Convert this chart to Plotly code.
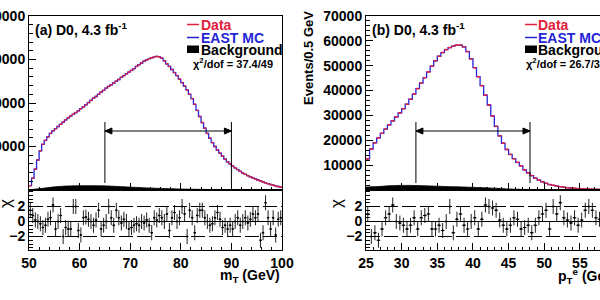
import plotly.graph_objects as go

# ---------------- data ----------------
# (a) transverse mass, 0.5 GeV bins from 50 to 100 GeV
mt_lo, mt_width = 50.0, 0.5
mt_counts = [
    1000, 2700, 4800, 6900, 9000, 10500, 11400, 12200, 13000, 13600,
    14100, 14600, 15100, 15600, 16100, 16600, 17000, 17400, 17800, 18200,
    18700, 19100, 19600, 20100, 20600, 21100, 21500, 22000, 22500, 22900,
    23400, 23800, 24200, 24600, 25000, 25400, 25900, 26300, 26700, 27100,
    27500, 27900, 28400, 28800, 29200, 29600, 29900, 30200, 30400, 30600,
    30700, 30600, 30300, 29700, 29000, 28400, 27700, 27000, 26300, 25500,
    24700, 23900, 23000, 22000, 21000, 19700, 18300, 16900, 15500, 14200,
    13000, 11900, 10900, 10000, 9200, 8500, 7800, 7100, 6500, 6000,
    5500, 5100, 4700, 4300, 3900, 3600, 3300, 3050, 2800, 2550,
    2300, 2080, 1860, 1650, 1450, 1270, 1100, 950, 800, 680]
mt_bkg = [
    100, 150, 200, 260, 330, 400, 470, 540, 610, 680,
    740, 790, 830, 870, 900, 920, 940, 950, 960, 970,
    980, 980, 990, 990, 990, 980, 980, 970, 960, 950,
    930, 910, 890, 860, 830, 800, 770, 740, 710, 680,
    650, 620, 590, 560, 530, 500, 480, 460, 440, 420,
    400, 380, 360, 340, 320, 300, 285, 270, 255, 240,
    225, 210, 200, 190, 180, 170, 160, 150, 140, 130,
    120, 110, 100, 95, 90, 85, 80, 75, 70, 65,
    60, 58, 56, 54, 52, 50, 48, 46, 44, 42,
    40, 38, 36, 34, 32, 30, 28, 26, 24, 22]
mt_chi = [
    1.5, 0.8, 0.2, 0.0, -0.3, -0.8, -0.5, 0.3, 0.5, 2.2,
    -1.0, 0.0, 0.8, -2.0, -0.8, -1.0, -1.0, 2.0, 2.0, -1.2,
    -1.8, 0.5, 0.6, 0.3, 0.0, -0.5, 0.2, 1.5, -1.0, -0.5,
    0.0, 2.0, 0.5, -0.5, 1.5, 0.5, -0.2, 0.3, 0.0, -1.0,
    -0.8, -0.5, -0.3, -0.5, 0.0, -0.2, 0.2, -0.5, -1.5, 0.5,
    0.2, 0.8, 0.5, 0.0, 1.0, -1.2, 0.5, 1.2, 0.0, 0.5,
    2.0, 1.0, -2.0, 1.5, 0.5, -1.5, 0.8, 1.5, 1.5, 0.5,
    0.0, -0.5, -0.3, 0.5, 1.2, 0.3, -0.8, -0.5, -1.0, -0.5,
    -1.0, 0.0, 0.5, -0.5, 0.0, 0.5, -0.2, 0.3, 1.0, 0.5,
    1.0, -2.5, -1.5, 2.5, 0.5, -1.0, 0.5, -1.8, 0.3, 0.5]
mt_fit_range = [65, 90]
mt_x_ticks = [50, 60, 70, 80, 90, 100]
mt_y_ticks = [10000, 20000, 30000, 40000]
mt_chi2_text = "37.4/49"

# (b) electron transverse momentum, 0.5 GeV bins from 25 to 60 GeV
pt_lo, pt_width = 25.0, 0.5
pt_counts = [
    12500, 16500, 19000, 21000, 22800, 24500, 26200, 27800, 29400, 31000,
    32700, 34500, 36500, 38600, 40800, 43000, 45200, 47500, 49800, 52000,
    53800, 55300, 56500, 57300, 57900, 58300, 58300, 57600, 55700, 52800,
    49200, 45600, 42000, 38200, 34200, 29800, 25600, 21800, 18800, 16300,
    14300, 12600, 11100, 9700, 8100, 6900, 5800, 4800, 4000, 3300,
    2700, 2200, 1900, 1600, 1350, 1150, 950, 800, 680, 580,
    500, 430, 370, 320, 280, 250, 220, 200, 180, 160]
pt_bkg = [
    1200, 1300, 1350, 1400, 1500, 1600, 1700, 1750, 1800, 1850,
    1850, 1850, 1850, 1800, 1800, 1750, 1700, 1650, 1600, 1550,
    1500, 1450, 1400, 1350, 1300, 1300, 1250, 1200, 1150, 1100,
    1050, 1000, 950, 900, 820, 750, 680, 600, 520, 450,
    400, 350, 310, 270, 240, 210, 180, 160, 140, 120,
    110, 100, 90, 80, 75, 70, 65, 60, 55, 50,
    48, 46, 44, 42, 40, 38, 36, 34, 32, 30]
pt_chi = [
    1.0, -2.0, -1.5, -2.5, -1.0, 0.5, 1.0, 2.2, 0.0, -0.2,
    -0.5, -1.0, -0.5, 0.5, -1.0, 0.5, 0.8, 1.0, -1.0, -1.0,
    -0.5, -1.2, 0.0, 2.0, -1.5, 0.3, 1.0, -0.5, -1.0, 0.0,
    0.5, -1.0, 0.3, 2.2, 2.0, 1.8, 1.5, 0.2, -0.5, -1.0,
    -0.5, 0.5, 0.3, -1.0, -0.8, -0.5, -1.5, -0.5, 0.5, 1.0,
    1.5, -1.0, 2.0, 1.0, 2.5, 0.5, 0.2, -0.2, 0.5, -0.5,
    0.2, 1.5, 2.0, 1.5, 0.5, 0.3, 1.5, 2.0, 0.5, 0.0]
pt_fit_range = [32, 48]
pt_x_ticks = [25, 30, 35, 40, 45, 50, 55, 60]
pt_y_ticks = [10000, 20000, 30000, 40000, 50000, 60000, 70000]
pt_chi2_text = "26.7/31"

chi_ticks = [-2, 0, 2]
chi_lines = [-2, 0, 2]

# ---------------- style / layout ----------------
RED = "#e0203c"
BLUE = "#2424d8"
FONT = "Liberation Sans"
W, H = 600, 300

L_PX = (29, 282)          # left panel frame, pixels
R_PX = (366, 600)         # right panel frame (continues past the edge)
TOP_PX = (16, 190)
RES_PX = (190, 250)
MT_RANGE = [50, 100]
PT_RANGE = [25, 25 + (R_PX[1] - R_PX[0]) / 7.13]
MT_Y = [0, 40000]
PT_Y = [0, 70000]
CHI_RANGE = [-3.8, 4.2]


def px(x):
    return x / W


def py(y):
    return 1 - y / H


def edges(lo, width, n):
    return [lo + width * i for i in range(n + 1)]


def centers(lo, width, n):
    return [lo + width * (i + 0.5) for i in range(n)]


fig = go.Figure()


def add_panel(lo, width, counts, bkg, chi, xa_top, ya_top, xa_res, ya_res):
    n = len(counts)
    e = edges(lo, width, n)
    c = centers(lo, width, n)
    fig.add_trace(go.Scatter(x=e, y=bkg + [bkg[-1]], mode="lines", line_shape="hv",
                             line=dict(color="black", width=0.8), fill="tozeroy",
                             fillcolor="black", xaxis=xa_top, yaxis=ya_top,
                             showlegend=False, hoverinfo="skip"))
    fig.add_trace(go.Scatter(x=e, y=counts + [counts[-1]], mode="lines", line_shape="hv",
                             line=dict(color=BLUE, width=1.3), xaxis=xa_top, yaxis=ya_top,
                             showlegend=False))
    fig.add_trace(go.Scatter(x=c, y=counts, mode="markers",
                             marker=dict(size=1.5, color=RED),
                             error_x=dict(type="constant", value=width / 2, color=RED,
                                          thickness=1.4, width=0),
                             xaxis=xa_top, yaxis=ya_top, showlegend=False))
    fig.add_trace(go.Scatter(x=c, y=chi, mode="markers",
                             marker=dict(size=2, color="black"),
                             error_x=dict(type="constant", value=width / 2, color="black",
                                          thickness=1, width=0),
                             error_y=dict(type="constant", value=1, color="#222222",
                                          thickness=1, width=0),
                             xaxis=xa_res, yaxis=ya_res, showlegend=False))


add_panel(mt_lo, mt_width, mt_counts, mt_bkg, mt_chi, "x", "y", "x2", "y2")
add_panel(pt_lo, pt_width, pt_counts, pt_bkg, pt_chi, "x3", "y3", "x4", "y4")

tickfont = dict(family=FONT, size=14, color="black", weight="bold")
L_DOM = [px(L_PX[0]), px(L_PX[1])]
R_DOM = [px(R_PX[0]), 1.0]
TOP_DOM = [py(TOP_PX[1]), py(TOP_PX[0])]
RES_DOM = [py(RES_PX[1]), py(RES_PX[0])]


def xaxis(dom, rng, anchor, ticks, minor_dt, labels):
    return dict(domain=dom, range=rng, anchor=anchor, showgrid=False, zeroline=False,
                showline=True, linecolor="black", linewidth=1, mirror=True,
                ticks="inside", ticklen=7, tickwidth=1, tickcolor="black",
                tickmode="array", tickvals=ticks, showticklabels=labels,
                tickfont=tickfont, tickformat="d", automargin=False,
                minor=dict(ticks="inside", ticklen=3.5, tickwidth=1, tickcolor="black",
                           tickmode="linear", tick0=rng[0], dtick=minor_dt))


def yaxis(dom, rng, anchor, ticks, minor_dt, mirror):
    return dict(domain=dom, range=rng, anchor=anchor, showgrid=False, zeroline=False,
                showline=True, linecolor="black", linewidth=1, mirror=mirror,
                ticks="inside", ticklen=7, tickwidth=1, tickcolor="black",
                tickmode="array", tickvals=ticks, tickfont=tickfont, tickformat="d",
                automargin=False,
                minor=dict(ticks="inside", ticklen=3.5, tickwidth=1, tickcolor="black",
                           tickmode="linear", tick0=0, dtick=minor_dt))


fig.update_layout(
    width=W, height=H, margin=dict(l=0, r=0, t=0, b=0, autoexpand=False),
    paper_bgcolor="white", plot_bgcolor="white",
    xaxis=xaxis(L_DOM, MT_RANGE, "y", mt_x_ticks, 2, False),
    yaxis=yaxis(TOP_DOM, MT_Y, "x", mt_y_ticks, 2000, True),
    xaxis2=xaxis(L_DOM, MT_RANGE, "y2", mt_x_ticks, 2, True),
    yaxis2=yaxis(RES_DOM, CHI_RANGE, "x2", chi_ticks, 0.5, True),
    xaxis3=xaxis(R_DOM, PT_RANGE, "y3", pt_x_ticks, 1, False),
    yaxis3=yaxis(TOP_DOM, PT_Y, "x3", pt_y_ticks, 2000, False),
    xaxis4=xaxis(R_DOM, PT_RANGE, "y4", pt_x_ticks, 1, True),
    yaxis4=yaxis(RES_DOM, CHI_RANGE, "x4", chi_ticks, 0.5, False),
)

shapes = []
annotations = []

for xr, yr in (("x2 domain", "y2"), ("x4 domain", "y4")):
    for v in chi_lines:
        shapes.append(dict(type="line", xref=xr, yref=yr, x0=0, x1=1, y0=v, y1=v,
                           line=dict(color="black", width=1,
                                     dash="solid" if v == 0 else "14px,4px")))


def fit_marks(rng, xr, yr, xrange, yrange, frame_x, frame_y, y_lo_px, y_hi_px, y_arrow_px):
    # pixel -> data conversions for this panel
    gx = (xrange[1] - xrange[0]) / (frame_x[1] - frame_x[0])
    gy = (yrange[1] - yrange[0]) / (frame_y[1] - frame_y[0])
    y_lo = (frame_y[1] - y_lo_px) * gy
    y_hi = (frame_y[1] - y_hi_px) * gy
    ya = (frame_y[1] - y_arrow_px) * gy
    head_l, head_w = 7 * gx, 3 * gy
    for v in rng:
        shapes.append(dict(type="line", xref=xr, yref=yr, x0=v, x1=v, y0=y_lo, y1=y_hi,
                           line=dict(color="black", width=1)))
    shapes.append(dict(type="line", xref=xr, yref=yr, x0=rng[0], x1=rng[1], y0=ya, y1=ya,
                       line=dict(color="black", width=1)))
    for v, s in ((rng[0], 1), (rng[1], -1)):
        path = "M {},{} L {},{} L {},{} Z".format(v, ya, v + s * head_l, ya + head_w,
                                                 v + s * head_l, ya - head_w)
        shapes.append(dict(type="path", xref=xr, yref=yr, path=path,
                           fillcolor="black", line=dict(color="black", width=1)))


fit_marks(mt_fit_range, "x", "y", MT_RANGE, MT_Y, L_PX, TOP_PX, 183, 122, 131)
fit_marks(pt_fit_range, "x3", "y3", [PT_RANGE[0], PT_RANGE[0] + 234 / 7.13 * 1.0],
          PT_Y, (R_PX[0], R_PX[0] + 234), TOP_PX, 183, 122, 131)


def text(xp, yp, s, size=14, color="black", anchor="left", angle=0, bold=True):
    annotations.append(dict(x=px(xp), y=py(yp), xref="paper", yref="paper", text=s,
                            showarrow=False, xanchor=anchor, yanchor="middle",
                            textangle=angle,
                            font=dict(family=FONT, size=size, color=color,
                                      weight="bold" if bold else "normal")))


def legend(x_line, x_text, x_chi, chi2):
    shapes.append(dict(type="line", xref="paper", yref="paper", x0=px(x_line),
                       x1=px(x_line + 12), y0=py(24.5), y1=py(24.5),
                       line=dict(color=RED, width=1.5)))
    shapes.append(dict(type="line", xref="paper", yref="paper", x0=px(x_line),
                       x1=px(x_line + 12), y0=py(37.5), y1=py(37.5),
                       line=dict(color=BLUE, width=1.5)))
    shapes.append(dict(type="rect", xref="paper", yref="paper", x0=px(x_line),
                       x1=px(x_line + 12), y0=py(53), y1=py(45.5),
                       fillcolor="black", line=dict(width=0)))
    text(x_text, 25, "Data", color=RED)
    text(x_text, 37.5, "EAST MC", color=BLUE)
    text(x_text, 49.5, "Background")
    text(x_chi, 63, "χ<sup>2</sup>/dof = " + chi2, size=11)


legend(187, 199, 191, mt_chi2_text)
legend(525, 536, 524, pt_chi2_text)

text(33, 29, "(a) D0, 4.3 fb<sup>-1</sup>")
text(370, 29, "(b) D0, 4.3 fb<sup>-1</sup>")
text(282, 276, "m<sub>T</sub> (GeV)", anchor="right")
text(556, 276, "p<sub>T</sub><sup>e</sup> (GeV)")
text(308, 58, "Events/0.5 GeV", size=13, anchor="center", angle=-90)
text(5, 204, "χ", size=17, anchor="center", angle=-90, bold=False)
text(336, 204, "χ", size=17, anchor="center", angle=-90, bold=False)

fig.update_layout(shapes=shapes, annotations=annotations)
fig.write_html("out.html")
